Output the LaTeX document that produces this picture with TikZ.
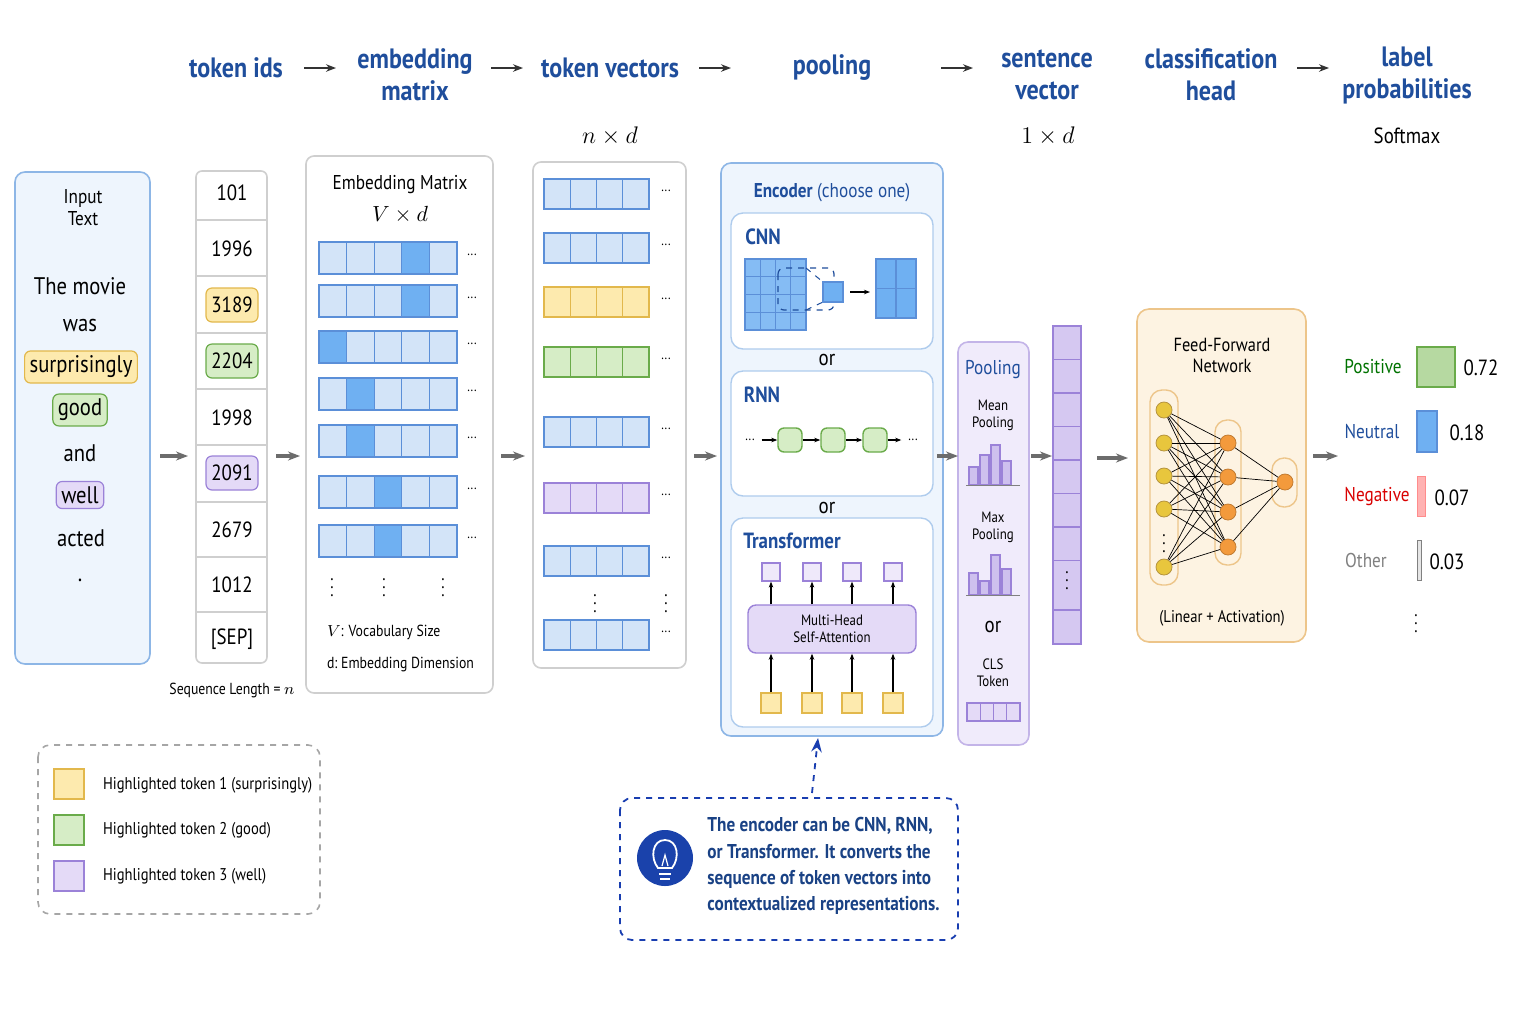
\documentclass[tikz,border=0pt]{standalone}
\usepackage{fontspec}
\setmainfont{PT Sans}[FakeStretch=0.86]
\usetikzlibrary{arrows.meta}
\definecolor{hd}{HTML}{1F4E9C}
\definecolor{bF}{HTML}{D3E4F8}\definecolor{bD}{HTML}{5B8FD8}\definecolor{bH}{HTML}{6FB0F2}
\definecolor{yF}{HTML}{FDEAAE}\definecolor{yD}{HTML}{E2B84C}
\definecolor{gF}{HTML}{D6EDC6}\definecolor{gD}{HTML}{6AAB4A}
\definecolor{pF}{HTML}{E4DAF7}\definecolor{pD}{HTML}{9B82D8}
\definecolor{oF}{HTML}{FDF3E2}\definecolor{oD}{HTML}{EDC58A}\definecolor{oC}{HTML}{F39A3C}
\definecolor{lb}{HTML}{EEF5FD}\definecolor{lbD}{HTML}{8DB6E6}
\definecolor{gr}{HTML}{CFCFCF}
\tikzset{
 hdr/.style={text=hd,font=\fontsize{14}{15}\selectfont\bfseries,align=center},
 arr/.style={-{Stealth[length=6pt]},line width=1.6pt,draw=gray!85!black},
 harr/.style={-{Stealth[length=5pt]},line width=0.7pt,draw=black!80},
 cB/.style={fill=bF,draw=bD,line width=0.6pt},
 cH/.style={fill=bH,draw=bD,line width=0.6pt},
 cY/.style={fill=yF,draw=yD,line width=0.6pt},
 cG/.style={fill=gF,draw=gD,line width=0.6pt},
 cP/.style={fill=pF,draw=pD,line width=0.6pt},
 box/.style={draw=gr,line width=0.8pt,rounded corners=4pt,fill=white},
 tx/.style={font=\fontsize{11}{12}\selectfont},
 sm/.style={font=\fontsize{7.5}{8.5}\selectfont,align=center},
 hl/.style={rounded corners=3pt,inner sep=2.5pt,line width=0.6pt},
 sa/.style={-{Stealth[length=3pt]},line width=0.6pt},
 vd/.style={font=\small,inner sep=0pt},
}
\begin{document}
\begin{tikzpicture}[x=0.5pt,y=-0.5pt]
\useasboundingbox[fill=white] (0,0) rectangle (1536,1024);
% headers
\node[hdr] (h1) at (236,68) {token ids};
\node[hdr] (h2) at (415,75) {embedding\\[1pt]matrix};
\node[hdr] (h3) at (610,68) {token vectors};
\node[hdr] (h4) at (832,68) {pooling};
\node[hdr] (h5) at (1047,75) {sentence\\[1pt]vector};
\node[hdr] (h6) at (1211,75) {classification\\[1pt]head};
\node[hdr] (h7) at (1407,75) {label\\[1pt]probabilities};
\foreach \x in {320,507,715,957,1313}{\draw[harr] (\x-16,68) -- (\x+16,68);}
\node[font=\fontsize{13}{14}\selectfont] (nd) at (610,136) {$n\times d$};
\node[font=\fontsize{13}{14}\selectfont] (od) at (1048,136) {$1\times d$};
\node[tx] (sm) at (1407,136) {Softmax};
% input text
\draw[fill=lb,draw=lbD,line width=0.8pt,rounded corners=5pt] (15,172) rectangle (150,664);
\node[font=\fontsize{10}{11}\selectfont,align=center] (it) at (83,208) {Input\\Text};
\begin{scope}[every node/.style={font=\fontsize{12}{13}\selectfont}]
\node (w1) at (80,286) {The movie};
\node (w2) at (80,325) {was};
\node[hl,fill=yF,draw=yD] (w3) at (81,367) {surprisingly};
\node[hl,fill=gF,draw=gD] (w4) at (80,410) {good};
\node (w5) at (80,453) {and};
\node[hl,fill=pF,draw=pD] (w6) at (80,495) {well};
\node (w7) at (81,538) {acted};
\node (w8) at (80,580) {.};
\end{scope}
% token ids
\draw[box,rounded corners=3pt] (196,171) rectangle (267,663);
\foreach \y in {220,276,333,389,445,502,557,612}{\draw[gr,line width=0.8pt] (196,\y) -- (267,\y);}
\begin{scope}[every node/.style={font=\fontsize{11}{12}\selectfont}]
\node (t1) at (232,193) {101};
\node (t2) at (232,249) {1996};
\node[hl,fill=yF,draw=yD,minimum width=26pt,minimum height=17pt] (t3) at (232,305) {3189};
\node[hl,fill=gF,draw=gD,minimum width=26pt,minimum height=17pt] (t4) at (232,361) {2204};
\node (t5) at (232,418) {1998};
\node[hl,fill=pF,draw=pD,minimum width=26pt,minimum height=17pt] (t6) at (232,473) {2091};
\node (t7) at (232,530) {2679};
\node (t8) at (232,585) {1012};
\node (t9) at (232,639) {[SEP]};
\end{scope}
\node[font=\fontsize{8}{9}\selectfont] (sl) at (232,690) {Sequence Length = $n$};
% embedding matrix
\draw[box] (306,156) rectangle (493,693);
\node[font=\fontsize{10}{11}\selectfont] (emt) at (400,185) {Embedding Matrix};
\node[font=\fontsize{11}{12}\selectfont] (emv) at (400,215) {$V\times d$};
\foreach \y/\k in {258/3,301/3,347/0,394/1,441/1,492/2,541/2}{
 \foreach \c in {0,...,4}{\draw[cB] ({319+27.6*\c},{\y-16}) rectangle ++(27.6,32);}
 \draw[cH] ({319+27.6*\k},{\y-16}) rectangle ++(27.6,32);
 \node[font=\scriptsize] at (472,\y-3) {...};}
\foreach \x in {332,384,443}{\node[vd] at (\x,582) {$\vdots$};}
\node[font=\fontsize{8}{9}\selectfont,anchor=west] (ev) at (320,632) {$V$: Vocabulary Size};
\node[font=\fontsize{8}{9}\selectfont,anchor=west] (ed) at (320,665) {d:\ Embedding Dimension};
% token vectors
\draw[box] (533,162) rectangle (686,668);
\foreach \y/\s in {194/cB,248/cB,302/cY,362/cG,432/cB,498/cP,561/cB,635/cB}{
 \foreach \c in {0,...,3}{\draw[\s] ({544+26.25*\c},{\y-15}) rectangle ++(26.25,30);}
 \node[font=\scriptsize] at (666,\y-3) {...};}
\foreach \x in {595,666}{\node[vd] at (\x,598) {$\vdots$};}
% encoder
\draw[fill=lb,draw=lbD,line width=0.8pt,rounded corners=5pt] (721,163) rectangle (943,736);
\node[font=\fontsize{10}{11}\selectfont,text=hd] (enc) at (832,193) {\textbf{Encoder} (choose one)};
\draw[fill=white,draw=lbD!70,line width=0.7pt,rounded corners=6pt] (731,213) rectangle (933,349);
\node[font=\fontsize{11}{12}\selectfont\bfseries,text=hd] (cnn) at (763,237) {CNN};
\foreach \i in {0,...,3}{\foreach \j in {0,...,3}{\draw[cH,fill=bH!85] ({745+15.25*\i},{259+17.75*\j}) rectangle ++(15.25,17.75);}}
\draw[dashed,draw=hd,line width=0.6pt,rounded corners=3pt] (778,268) rectangle (834,310);
\draw[dashed,draw=hd,line width=0.5pt] (806,268) -- (823,282) (806,310) -- (823,302);
\draw[cH] (823,282) rectangle (843,302);
\draw[sa] (850,292) -- (870,292);
\foreach \i in {0,1}{\foreach \j in {0,1}{\draw[cH] ({876+20*\i},{259+29.5*\j}) rectangle ++(20,29.5);}}
\node[tx] (or1) at (827,360) {or};
\draw[fill=white,draw=lbD!70,line width=0.7pt,rounded corners=6pt] (731,371) rectangle (933,496);
\node[font=\fontsize{11}{12}\selectfont\bfseries,text=hd] (rnn) at (762,395) {RNN};
\node[font=\scriptsize] (r0) at (750,440) {...};
\foreach \n/\x in {r1/790,r2/833,r3/875}{\node[draw=gD,fill=gF,line width=0.7pt,rounded corners=3pt,minimum size=12pt,inner sep=0pt] (\n) at (\x,440) {};}
\node[font=\scriptsize] (r4) at (913,440) {...};
\draw[sa] (r0) -- (r1); \draw[sa] (r1) -- (r2); \draw[sa] (r2) -- (r3); \draw[sa] (r3) -- (r4);
\node[tx] (or2) at (827,508) {or};
\draw[fill=white,draw=lbD!70,line width=0.7pt,rounded corners=6pt] (731,518) rectangle (933,727);
\node[font=\fontsize{11}{12}\selectfont\bfseries,text=hd] (trf) at (792,541) {Transformer};
\node[draw=pD,fill=pF,line width=0.7pt,rounded corners=4pt,minimum width=84pt,minimum height=24pt,sm] (mh) at (832,629) {Multi-Head\\Self-Attention};
\foreach \x [count=\i] in {771,812,852,893}{
 \node[draw=pD,fill=pF!60,line width=0.6pt,minimum size=9pt,inner sep=0pt] (to\i) at (\x,572) {};
 \node[draw=yD,fill=yF,line width=0.6pt,minimum size=10pt,inner sep=0pt] (ti\i) at (\x,703) {};
 \draw[sa] (mh.north-|to\i) -- (to\i);
 \draw[sa] (ti\i) -- (mh.south-|ti\i);}
% pooling
\draw[fill=pF!55,draw=pD!60,line width=0.8pt,rounded corners=5pt] (958,342) rectangle (1029,745);
\node[font=\fontsize{10}{11}\selectfont,text=hd] (pl) at (993,370) {Pooling};
\node[sm] (mp) at (993,415) {Mean\\Pooling};
\node[sm] (xp) at (993,527) {Max\\Pooling};
\node[tx] (or3) at (993,627) {or};
\node[sm] (cls) at (993,673) {CLS\\Token};
\foreach \b/\h in {0/18,1/30,2/40,3/24}{\draw[cP,fill=pF!70!pD] ({969+11*\b},485) rectangle ++(9,-\h);}
\draw[gray] (966,485) -- (1020,485);
\foreach \b/\h in {0/22,1/14,2/40,3/26}{\draw[cP,fill=pF!70!pD] ({969+11*\b},595) rectangle ++(9,-\h);}
\draw[gray] (966,595) -- (1020,595);
\foreach \c in {0,...,3}{\draw[cP] ({967+13.25*\c},703) rectangle ++(13.25,18);}
% sentence vector
\foreach \j in {0,...,6}{\draw[cP,fill=pF!80!pD] (1053,{326+33.5*\j}) rectangle ++(28,33.5);}
\draw[cP,fill=pF!80!pD] (1053,560.5) rectangle (1081,610);
\node[vd] at (1067,575) {$\vdots$};
\draw[cP,fill=pF!80!pD] (1053,610) rectangle (1081,644);
% FFN
\draw[fill=oF,draw=oD,line width=0.8pt,rounded corners=6pt] (1137,309) rectangle (1306,642);
\node[font=\fontsize{9.5}{10.5}\selectfont,align=center] (ffn) at (1222,355) {Feed-Forward\\Network};
\draw[fill=oF,draw=oD,line width=0.7pt,rounded corners=6pt] (1150,390) rectangle (1178,585);
\draw[fill=oF,draw=oD,line width=0.7pt,rounded corners=6pt] (1215,420) rectangle (1241,565);
\draw[fill=oF,draw=oD,line width=0.7pt,rounded corners=6pt] (1272,458) rectangle (1297,507);
\foreach \y [count=\i] in {410,443,476,509,567}{\node[circle,draw=yD!80!black,fill=yD!80!yellow,minimum size=8pt,inner sep=0pt] (a\i) at (1164,\y) {};}
\node[vd] at (1164,538) {$\vdots$};
\foreach \y [count=\i] in {443,477,512,547}{\node[circle,draw=oC!80!black,fill=oC,minimum size=8pt,inner sep=0pt] (b\i) at (1228,\y) {};}
\node[circle,draw=oC!80!black,fill=oC,minimum size=8pt,inner sep=0pt] (c1) at (1285,482) {};
\foreach \i in {1,...,5}{\foreach \j in {1,...,4}{\draw[line width=0.35pt] (a\i) -- (b\j);}}
\foreach \j in {1,...,4}{\draw[line width=0.35pt] (b\j) -- (c1);}
\node[font=\fontsize{8.5}{9}\selectfont] (la) at (1222,618) {(Linear + Activation)};
% outputs
\node[font=\fontsize{10}{11}\selectfont,text=green!45!black] (pos) at (1373,367) {Positive};
\draw[cG,fill=gF!70!gD] (1417,347) rectangle (1455,387); \node[tx] (p1) at (1481,368) {0.72};
\node[font=\fontsize{10}{11}\selectfont,text=hd] (neu) at (1372,431) {Neutral};
\draw[cH] (1417,411) rectangle (1437,452); \node[tx] (p2) at (1467,433) {0.18};
\node[font=\fontsize{10}{11}\selectfont,text=red!85!black] (neg) at (1377,496) {Negative};
\draw[fill=red!30,draw=red!45] (1417,476) rectangle (1425,516); \node[tx] (p3) at (1452,498) {0.07};
\node[font=\fontsize{10}{11}\selectfont,text=gray] (oth) at (1366,560) {Other};
\draw[fill=gray!20,draw=gray] (1417,540) rectangle (1421,580); \node[tx] (p4) at (1447,562) {0.03};
\node[vd] at (1416,618) {$\vdots$};
% gray arrows
\foreach \a/\b in {160/188,276/300,501/525,694/717,937/958,1031/1052,1313/1338}{\draw[arr] (\a,456) -- (\b,456);}
\draw[arr] (1097,458) -- (1128,458);
% legend
\draw[dashed,draw=gray!70,line width=0.8pt,rounded corners=6pt] (38,745) rectangle (320,914);
\draw[cY] (54,769) rectangle (84,799); \node[font=\fontsize{8.5}{9}\selectfont,anchor=west] (l1) at (96,785) {Highlighted token 1 (surprisingly)};
\draw[cG] (54,815) rectangle (84,845); \node[font=\fontsize{8.5}{9}\selectfont,anchor=west] (l2) at (96,830) {Highlighted token 2 (good)};
\draw[cP] (54,861) rectangle (84,891); \node[font=\fontsize{8.5}{9}\selectfont,anchor=west] (l3) at (96,876) {Highlighted token 3 (well)};
% callout
\draw[dashed,draw=hd!80!blue,line width=0.9pt,rounded corners=6pt] (620,798) rectangle (958,940);
\node[circle,fill=hd!85!blue,minimum size=28pt,inner sep=0pt] (bulb) at (665,858) {};
\draw[white,line width=0.9pt] (658,868) .. controls (650,858) and (652,840) .. (665,840) .. controls (678,840) and (680,858) .. (672,868) -- cycle;
\draw[white,line width=0.9pt] (659,874) -- (671,874) (660,879) -- (670,879);
\draw[white,line width=0.6pt] (662,866) -- (665,855) -- (668,866);
\node[font=\fontsize{10}{13.2}\selectfont\bfseries,text=hd!85!black,anchor=north west,align=left,inner sep=0pt] (ct) at (707,817) {The encoder can be CNN, RNN,\\or Transformer. It converts the\\sequence of token vectors into\\contextualized representations.};
\coordinate (cs) at (812,793); \coordinate (ce) at (818,738);
\draw[dashed,draw=hd!80!blue,line width=0.9pt,-{Stealth[length=7pt]}] (cs) -- (ce);
\end{tikzpicture}
\end{document}
